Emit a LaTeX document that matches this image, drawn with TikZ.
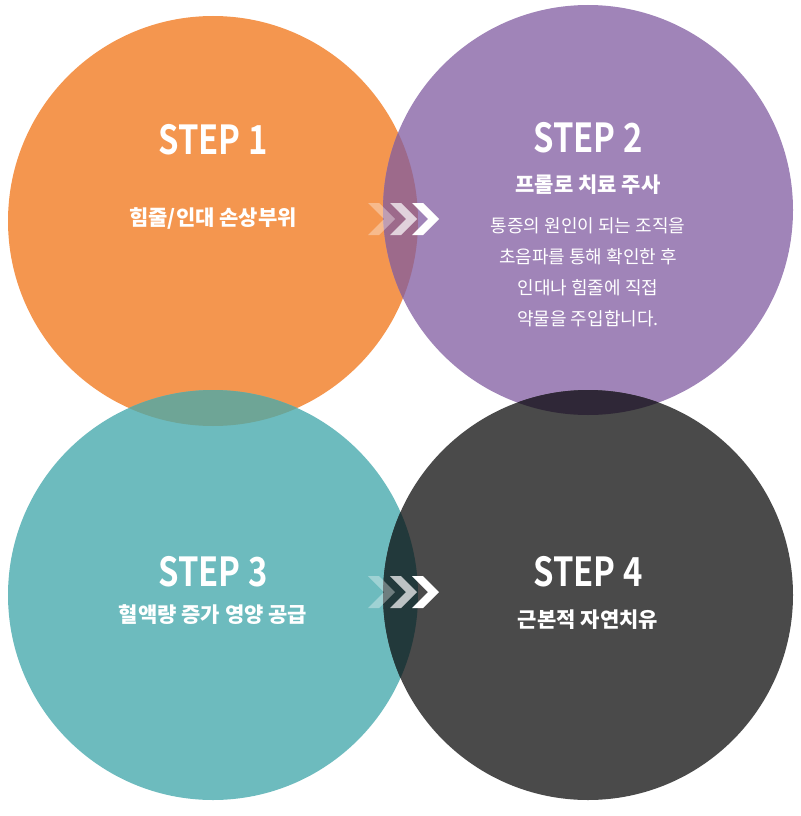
\documentclass[tikz,border=0pt]{standalone}
\usepackage{fontspec}
\setmainfont{Noto Sans CJK KR}
\newfontfamily\headfont[FakeStretch=0.82]{Noto Sans CJK KR Bold}
\usepackage{tikz}
\definecolor{orangec}{HTML}{F4964F}
\definecolor{purplec}{HTML}{A084B8}
\definecolor{tealc}{HTML}{6DBBBE}
\definecolor{darkc}{HTML}{4A4A4A}
\definecolor{opmix}{HTML}{9D6A8B}
\definecolor{otmix}{HTML}{6EA596}
\definecolor{pdmix}{HTML}{2F2737}
\definecolor{tdmix}{HTML}{22393B}
\tikzset{
  stepcirc/.style={circle, minimum size=410pt, inner sep=0pt},
  steptitle/.style={text=white, font=\headfont\fontsize{40}{40}\selectfont},
  stepsub/.style={text=white, font=\bfseries\fontsize{21}{24}\selectfont},
  stepbody/.style={text=white, align=center, font=\fontsize{18}{31}\selectfont},
  chev/.style={fill=white}
}
\newcommand{\chevron}[3]{\fill[white, opacity=#3] (#1,#2) -- ++(11,0) -- ++(16,16) -- ++(-16,16) -- ++(-11,0) -- ++(16,-16) -- cycle;}
\begin{document}
\begin{tikzpicture}[x=1pt,y=-1pt]
\useasboundingbox (0,0) rectangle (800,816);
\node[stepcirc, fill=orangec] (c1) at (213,221) {};
\node[stepcirc, fill=purplec] (c2) at (588,210) {};
\node[stepcirc, fill=tealc] (c3) at (213,595) {};
\node[stepcirc, fill=darkc] (c4) at (588,595) {};
% overlaps
\begin{scope}
  \clip (213,221) circle (205);
  \fill[opmix] (588,210) circle (205);
  \fill[otmix] (213,595) circle (205);
\end{scope}
\begin{scope}
  \clip (588,595) circle (205);
  \fill[pdmix] (588,210) circle (205);
  \fill[tdmix] (213,595) circle (205);
\end{scope}
% arrows
\foreach \y in {203,576}{
  \chevron{368}{\y}{0.35}
  \chevron{390}{\y}{0.7}
  \chevron{412}{\y}{1}
}
\node[steptitle] (t1) at (213,140) {STEP 1};
\node[stepsub] (s1) at (213,218) {힘줄/인대 손상부위};
\node[steptitle] (t2) at (588,138) {STEP 2};
\node[stepsub] (s2) at (588,185) {프롤로 치료 주사};
\node[stepbody] (b2) at (588,272) {통증의 원인이 되는 조직을\\초음파를 통해 확인한 후\\인대나 힘줄에 직접\\약물을 주입합니다.};
\node[steptitle] (t3) at (213,572) {STEP 3};
\node[stepsub] (s3) at (213,615) {혈액량 증가 영양 공급};
\node[steptitle] (t4) at (588,572) {STEP 4};
\node[stepsub] (s4) at (588,620) {근본적 자연치유};
\end{tikzpicture}
\end{document}
